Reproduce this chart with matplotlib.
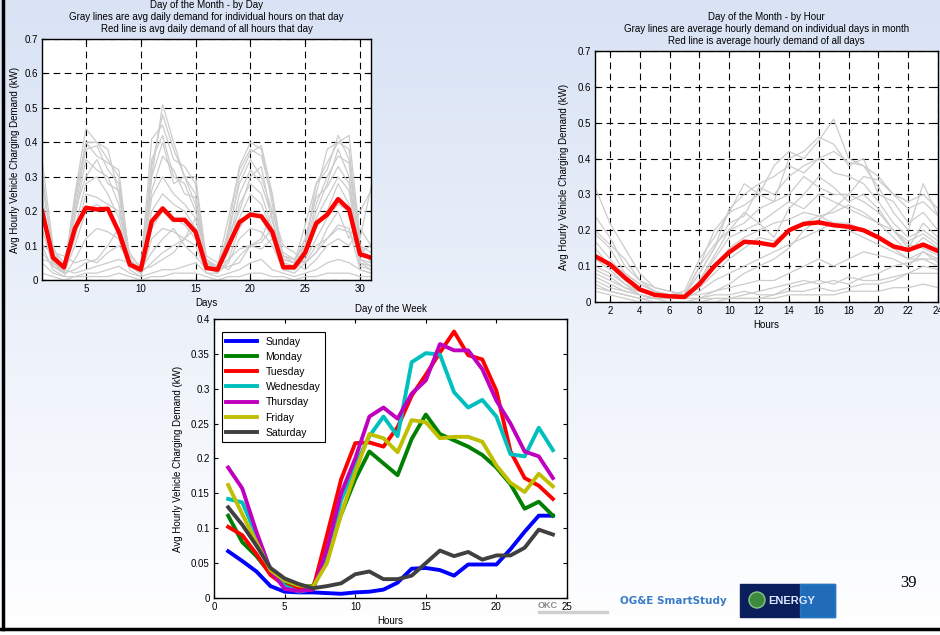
import numpy as np
import matplotlib
matplotlib.use("Agg")
import matplotlib.pyplot as plt
from matplotlib.lines import Line2D
from matplotlib.patches import Rectangle, Circle

plt.rcParams['font.family'] = ['Liberation Sans', 'DejaVu Sans']

# ---- Day of the Month - by Day (days 1..31) ----
days = np.arange(1, 32)
day_avg = [0.20, 0.065, 0.037, 0.15, 0.21, 0.205, 0.207, 0.14, 0.045, 0.03,
           0.17, 0.208, 0.175, 0.175, 0.14, 0.035, 0.03, 0.10, 0.168, 0.19,
           0.185, 0.14, 0.037, 0.037, 0.08, 0.165, 0.19, 0.235, 0.205, 0.075, 0.065]
# gray lines: individual hours across the month (estimated)
day_hours = [
    [0.35, 0.10, 0.02, 0.25, 0.44, 0.40, 0.38, 0.25, 0.05, 0.02, 0.30, 0.51, 0.40, 0.30, 0.25, 0.04,
     0.02, 0.15, 0.33, 0.40, 0.38, 0.22, 0.05, 0.04, 0.10, 0.28, 0.32, 0.42, 0.35, 0.10, 0.08],
    [0.30, 0.08, 0.03, 0.22, 0.40, 0.40, 0.35, 0.30, 0.06, 0.03, 0.41, 0.45, 0.35, 0.33, 0.28, 0.05,
     0.04, 0.12, 0.30, 0.37, 0.39, 0.25, 0.06, 0.05, 0.12, 0.25, 0.38, 0.40, 0.42, 0.12, 0.27],
    [0.25, 0.05, 0.02, 0.20, 0.38, 0.39, 0.32, 0.28, 0.04, 0.02, 0.35, 0.42, 0.30, 0.28, 0.20, 0.06,
     0.03, 0.14, 0.28, 0.35, 0.30, 0.20, 0.07, 0.06, 0.10, 0.22, 0.30, 0.36, 0.34, 0.06, 0.05],
    [0.22, 0.07, 0.04, 0.18, 0.35, 0.32, 0.30, 0.22, 0.05, 0.03, 0.30, 0.40, 0.28, 0.30, 0.22, 0.05,
     0.02, 0.10, 0.25, 0.32, 0.28, 0.18, 0.05, 0.04, 0.09, 0.20, 0.28, 0.38, 0.30, 0.05, 0.04],
    [0.28, 0.09, 0.05, 0.20, 0.30, 0.35, 0.28, 0.26, 0.07, 0.04, 0.26, 0.36, 0.32, 0.25, 0.24, 0.05,
     0.04, 0.13, 0.20, 0.30, 0.33, 0.17, 0.06, 0.05, 0.12, 0.24, 0.27, 0.33, 0.28, 0.08, 0.10],
    [0.18, 0.05, 0.02, 0.15, 0.28, 0.30, 0.25, 0.18, 0.04, 0.02, 0.24, 0.30, 0.25, 0.22, 0.18, 0.04,
     0.03, 0.08, 0.22, 0.28, 0.25, 0.15, 0.04, 0.03, 0.07, 0.18, 0.24, 0.30, 0.26, 0.05, 0.03],
    [0.20, 0.06, 0.03, 0.12, 0.25, 0.24, 0.22, 0.20, 0.06, 0.03, 0.20, 0.25, 0.22, 0.20, 0.15, 0.05,
     0.04, 0.10, 0.18, 0.25, 0.22, 0.14, 0.05, 0.04, 0.08, 0.15, 0.20, 0.28, 0.22, 0.06, 0.04],
    [0.15, 0.04, 0.02, 0.10, 0.20, 0.22, 0.20, 0.15, 0.04, 0.02, 0.15, 0.20, 0.18, 0.16, 0.12, 0.04,
     0.02, 0.06, 0.15, 0.20, 0.18, 0.12, 0.03, 0.03, 0.06, 0.12, 0.18, 0.22, 0.20, 0.04, 0.03],
    [0.10, 0.03, 0.01, 0.06, 0.12, 0.15, 0.14, 0.12, 0.03, 0.01, 0.12, 0.15, 0.14, 0.12, 0.10, 0.02,
     0.02, 0.05, 0.12, 0.15, 0.14, 0.10, 0.03, 0.02, 0.05, 0.10, 0.12, 0.16, 0.15, 0.03, 0.02],
    [0.10, 0.08, 0.07, 0.05, 0.06, 0.05, 0.08, 0.10, 0.06, 0.02, 0.05, 0.08, 0.10, 0.12, 0.15, 0.05,
     0.03, 0.04, 0.05, 0.10, 0.09, 0.12, 0.08, 0.06, 0.05, 0.08, 0.15, 0.20, 0.12, 0.20, 0.26],
    [0.06, 0.05, 0.03, 0.02, 0.03, 0.04, 0.05, 0.06, 0.05, 0.03, 0.08, 0.12, 0.15, 0.10, 0.07, 0.03,
     0.04, 0.06, 0.09, 0.10, 0.11, 0.15, 0.07, 0.05, 0.03, 0.06, 0.10, 0.12, 0.10, 0.15, 0.10],
    [0.05, 0.02, 0.01, 0.01, 0.02, 0.02, 0.03, 0.04, 0.02, 0.01, 0.02, 0.03, 0.03, 0.04, 0.05, 0.02,
     0.01, 0.02, 0.03, 0.05, 0.06, 0.03, 0.02, 0.01, 0.02, 0.03, 0.05, 0.06, 0.05, 0.03, 0.02],
    [0.02, 0.01, 0.00, 0.01, 0.01, 0.01, 0.01, 0.02, 0.01, 0.00, 0.01, 0.01, 0.02, 0.02, 0.02, 0.01,
     0.00, 0.01, 0.01, 0.02, 0.02, 0.01, 0.01, 0.00, 0.01, 0.01, 0.02, 0.02, 0.02, 0.01, 0.01],
    [0.08, 0.04, 0.02, 0.03, 0.05, 0.06, 0.10, 0.15, 0.08, 0.03, 0.04, 0.06, 0.08, 0.12, 0.18, 0.07,
     0.05, 0.03, 0.07, 0.10, 0.12, 0.20, 0.10, 0.08, 0.05, 0.08, 0.12, 0.15, 0.14, 0.08, 0.06],
    [0.32, 0.06, 0.02, 0.24, 0.40, 0.36, 0.34, 0.32, 0.05, 0.02, 0.33, 0.48, 0.38, 0.30, 0.30, 0.06,
     0.04, 0.18, 0.32, 0.38, 0.36, 0.24, 0.06, 0.05, 0.16, 0.28, 0.34, 0.40, 0.38, 0.10, 0.05],
]

# ---- Day of the Month - by Hour (hours 1..24) ----
hours = np.arange(1, 25)
hour_avg = [0.128, 0.105, 0.068, 0.035, 0.02, 0.016, 0.014, 0.05, 0.10, 0.139, 0.168, 0.165,
            0.158, 0.20, 0.218, 0.222, 0.214, 0.21, 0.20, 0.18, 0.155, 0.145, 0.16, 0.142]
# gray lines: individual days across the hours (estimated)
hour_days = [
    [0.32, 0.22, 0.15, 0.08, 0.04, 0.03, 0.02, 0.10, 0.20, 0.25, 0.27, 0.30, 0.38, 0.42, 0.40, 0.45,
     0.51, 0.40, 0.38, 0.32, 0.25, 0.20, 0.33, 0.24],
    [0.24, 0.18, 0.10, 0.06, 0.03, 0.02, 0.03, 0.12, 0.18, 0.25, 0.33, 0.30, 0.28, 0.40, 0.42, 0.46,
     0.44, 0.38, 0.40, 0.30, 0.28, 0.22, 0.25, 0.20],
    [0.19, 0.15, 0.08, 0.05, 0.03, 0.02, 0.02, 0.08, 0.15, 0.22, 0.24, 0.32, 0.30, 0.35, 0.38, 0.40,
     0.36, 0.35, 0.33, 0.28, 0.22, 0.18, 0.20, 0.17],
    [0.17, 0.12, 0.07, 0.04, 0.02, 0.01, 0.02, 0.10, 0.16, 0.20, 0.22, 0.26, 0.28, 0.30, 0.35, 0.32,
     0.30, 0.30, 0.28, 0.25, 0.20, 0.15, 0.22, 0.18],
    [0.15, 0.10, 0.06, 0.03, 0.02, 0.01, 0.01, 0.06, 0.12, 0.18, 0.20, 0.22, 0.25, 0.28, 0.26, 0.30,
     0.28, 0.26, 0.24, 0.22, 0.18, 0.14, 0.18, 0.15],
    [0.12, 0.09, 0.05, 0.03, 0.02, 0.01, 0.01, 0.05, 0.10, 0.15, 0.18, 0.20, 0.22, 0.23, 0.25, 0.24,
     0.22, 0.22, 0.20, 0.18, 0.15, 0.12, 0.14, 0.12],
    [0.10, 0.08, 0.05, 0.02, 0.01, 0.01, 0.01, 0.06, 0.13, 0.20, 0.25, 0.22, 0.18, 0.26, 0.30, 0.35,
     0.32, 0.28, 0.30, 0.26, 0.20, 0.16, 0.15, 0.13],
    [0.09, 0.07, 0.04, 0.02, 0.01, 0.01, 0.01, 0.04, 0.08, 0.12, 0.15, 0.18, 0.17, 0.20, 0.22, 0.24,
     0.25, 0.27, 0.25, 0.22, 0.20, 0.17, 0.19, 0.16],
    [0.08, 0.06, 0.04, 0.03, 0.02, 0.01, 0.01, 0.03, 0.06, 0.08, 0.10, 0.12, 0.14, 0.16, 0.18, 0.20,
     0.22, 0.20, 0.18, 0.16, 0.14, 0.12, 0.12, 0.10],
    [0.07, 0.05, 0.03, 0.02, 0.01, 0.01, 0.01, 0.01, 0.02, 0.02, 0.03, 0.02, 0.02, 0.04, 0.05, 0.06,
     0.05, 0.07, 0.06, 0.06, 0.07, 0.08, 0.10, 0.09],
    [0.06, 0.04, 0.03, 0.02, 0.01, 0.01, 0.01, 0.01, 0.01, 0.01, 0.02, 0.03, 0.04, 0.05, 0.06, 0.05,
     0.06, 0.05, 0.07, 0.08, 0.10, 0.11, 0.12, 0.12],
    [0.05, 0.03, 0.02, 0.01, 0.01, 0.00, 0.00, 0.00, 0.01, 0.01, 0.01, 0.01, 0.02, 0.03, 0.03, 0.04,
     0.03, 0.04, 0.05, 0.05, 0.06, 0.08, 0.08, 0.08],
    [0.04, 0.03, 0.02, 0.01, 0.00, 0.00, 0.00, 0.00, 0.00, 0.01, 0.01, 0.01, 0.01, 0.02, 0.02, 0.02,
     0.02, 0.03, 0.03, 0.03, 0.04, 0.04, 0.05, 0.04],
    [0.13, 0.11, 0.08, 0.05, 0.03, 0.02, 0.02, 0.02, 0.03, 0.04, 0.05, 0.06, 0.06, 0.08, 0.10, 0.12,
     0.10, 0.12, 0.14, 0.13, 0.12, 0.10, 0.14, 0.11],
    [0.03, 0.02, 0.01, 0.00, 0.00, 0.00, 0.00, 0.01, 0.03, 0.05, 0.08, 0.10, 0.12, 0.15, 0.20, 0.23,
     0.26, 0.30, 0.35, 0.34, 0.30, 0.28, 0.30, 0.26],
    [0.20, 0.16, 0.12, 0.06, 0.04, 0.03, 0.02, 0.08, 0.15, 0.26, 0.30, 0.33, 0.35, 0.38, 0.36, 0.40,
     0.42, 0.39, 0.38, 0.35, 0.30, 0.26, 0.28, 0.24],
]

# ---- Day of the Week ----
weekdays = ['Sunday', 'Monday', 'Tuesday', 'Wednesday', 'Thursday', 'Friday', 'Saturday']
week_colors = ['#0000ff', '#008000', '#ff0000', '#00bfbf', '#bf00bf', '#bfbf00', '#404040']
sunday = [0.067, 0.053, 0.038, 0.017, 0.009, 0.008, 0.008, 0.007, 0.006, 0.008, 0.009, 0.012,
          0.022, 0.042, 0.043, 0.040, 0.032, 0.048, 0.048, 0.048, 0.07, 0.095, 0.118, 0.118]
monday = [0.118, 0.08, 0.06, 0.035, 0.022, 0.017, 0.017, 0.06, 0.12, 0.17, 0.21, 0.193,
          0.176, 0.228, 0.263, 0.235, 0.226, 0.217, 0.205, 0.187, 0.163, 0.128, 0.138, 0.118]
tuesday = [0.102, 0.09, 0.063, 0.033, 0.018, 0.013, 0.012, 0.09, 0.17, 0.222, 0.223, 0.217,
           0.245, 0.29, 0.32, 0.352, 0.382, 0.348, 0.342, 0.297, 0.21, 0.172, 0.161, 0.142]
wednesday = [0.142, 0.137, 0.09, 0.04, 0.017, 0.009, 0.013, 0.06, 0.14, 0.19, 0.232, 0.26,
             0.232, 0.338, 0.351, 0.349, 0.295, 0.273, 0.284, 0.26, 0.206, 0.203, 0.244, 0.212]
thursday = [0.187, 0.157, 0.095, 0.04, 0.013, 0.01, 0.012, 0.07, 0.15, 0.20, 0.26, 0.273,
            0.257, 0.293, 0.312, 0.364, 0.355, 0.355, 0.328, 0.283, 0.25, 0.21, 0.203, 0.172]
friday = [0.162, 0.12, 0.08, 0.04, 0.025, 0.018, 0.016, 0.05, 0.12, 0.18, 0.235, 0.229,
          0.209, 0.255, 0.252, 0.229, 0.231, 0.231, 0.224, 0.19, 0.165, 0.152, 0.178, 0.16]
saturday = [0.13, 0.105, 0.075, 0.043, 0.028, 0.02, 0.014, 0.017, 0.021, 0.034, 0.038, 0.027,
            0.027, 0.032, 0.05, 0.068, 0.06, 0.066, 0.055, 0.061, 0.061, 0.072, 0.098, 0.091]
week_series = [sunday, monday, tuesday, wednesday, thursday, friday, saturday]

ylab = 'Avg Hourly Vehicle Charging Demand (kW)'
FS = 7

fig = plt.figure(figsize=(9.4, 6.35), dpi=100)

# slide background gradient
bg = fig.add_axes([0, 0, 1, 1], zorder=-10)
grad = np.linspace(0, 1, 256).reshape(-1, 1)
top_c = np.array([0.85, 0.89, 0.96])
bot_c = np.array([1.0, 1.0, 1.0])
img = top_c + (bot_c - top_c) * grad[..., None]
bg.imshow(img, aspect='auto', extent=[0, 1, 0, 1], origin='upper')
bg.set_xlim(0, 1)
bg.set_ylim(0, 1)
bg.axis('off')


def style(ax):
    ax.tick_params(direction='in', top=True, right=True, length=3, labelsize=FS, pad=3)
    for s in ax.spines.values():
        s.set_linewidth(1.0)


def month_grid(ax):
    ax.grid(True, color='k', linestyle=(0, (6, 4)), linewidth=0.8)
    ax.set_axisbelow(True)


# chart 1
ax1 = fig.add_axes([0.0447, 0.559, 0.350, 0.3795])
for g in day_hours:
    ax1.plot(days, g, color='#cccccc', lw=0.9)
ax1.plot(days, day_avg, color='red', lw=3.2)
ax1.set_xlim(1, 31)
ax1.set_ylim(0, 0.7)
ax1.set_xticks([5, 10, 15, 20, 25, 30])
ax1.set_yticks(np.arange(0, 0.71, 0.1))
ax1.set_yticklabels(['0', '0.1', '0.2', '0.3', '0.4', '0.5', '0.6', '0.7'])
month_grid(ax1)
style(ax1)
ax1.set_title('Day of the Month - by Day\nGray lines are avg daily demand for individual hours on that day\n'
              'Red line is avg daily demand of all hours that day', fontsize=FS, pad=5, linespacing=1.25)
ax1.set_xlabel('Days', fontsize=FS, labelpad=3)
ax1.set_ylabel(ylab, fontsize=FS)
ax1.yaxis.set_label_coords(-0.068, 0.5)

# chart 2
ax2 = fig.add_axes([0.633, 0.5244, 0.365, 0.3953])
for g in hour_days:
    ax2.plot(hours, g, color='#cccccc', lw=0.9)
ax2.plot(hours, hour_avg, color='red', lw=3.2)
ax2.set_xlim(1, 24)
ax2.set_ylim(0, 0.7)
ax2.set_xticks(np.arange(2, 25, 2))
ax2.set_yticks(np.arange(0, 0.71, 0.1))
ax2.set_yticklabels(['0', '0.1', '0.2', '0.3', '0.4', '0.5', '0.6', '0.7'])
month_grid(ax2)
style(ax2)
ax2.set_title('Day of the Month - by Hour\nGray lines are average hourly demand on individual days in month\n'
              'Red line is average hourly demand of all days', fontsize=FS, pad=5, linespacing=1.25)
ax2.set_xlabel('Hours', fontsize=FS, labelpad=3)
ax2.set_ylabel(ylab, fontsize=FS, labelpad=6)

# chart 3
ax3 = fig.add_axes([0.2277, 0.0583, 0.3755, 0.4394])
for name, col, vals in zip(weekdays, week_colors, week_series):
    ax3.plot(hours, vals, color=col, lw=2.8, label=name)
ax3.set_xlim(0, 25)
ax3.set_ylim(0, 0.4)
ax3.set_xticks(np.arange(0, 26, 5))
ax3.set_yticks(np.arange(0, 0.41, 0.05))
ax3.set_yticklabels(['0', '0.05', '0.1', '0.15', '0.2', '0.25', '0.3', '0.35', '0.4'])
style(ax3)
ax3.set_title('Day of the Week', fontsize=FS, pad=5)
ax3.set_xlabel('Hours', fontsize=FS, labelpad=3)
ax3.set_ylabel(ylab, fontsize=FS, labelpad=6)
leg = ax3.legend(loc='upper left', fontsize=7.5, handlelength=3.0, fancybox=False,
                 edgecolor='k', framealpha=1, borderaxespad=0, labelspacing=0.5,
                 bbox_to_anchor=(0.022, 0.952))
leg.get_frame().set_linewidth(0.8)

# logos and page number
ov = fig.add_axes([0, 0, 1, 1], zorder=5)
ov.set_xlim(0, 940)
ov.set_ylim(635, 0)
ov.axis('off')
ov.text(538, 605, 'OKC', fontsize=6.5, color='#888888', fontweight='bold', va='center')
ov.add_patch(Rectangle((538, 611), 70, 2, color='#cfcfcf'))
ov.text(620, 601, 'OG&E SmartStudy', fontsize=7.5, color='#3a7cc7', fontweight='bold',
        va='center', family='DejaVu Sans')
ov.add_patch(Rectangle((740, 584), 95, 33, color='#0b1f5c'))
ov.add_patch(Rectangle((800, 584), 35, 33, color='#2a8de0', alpha=0.7))
ov.add_patch(Circle((757, 600), 8, facecolor='#3c8a3c', edgecolor='#88c888', lw=1))
ov.text(768, 601, 'ENERGY', fontsize=8, color='#dde8ff', fontweight='bold', va='center')
ov.text(908, 583, '39', fontsize=12, family='Liberation Serif', ha='center', va='center')

# slide frame lines
fig.add_artist(Line2D([3 / 940, 3 / 940], [1 - 629 / 635, 1], color='k', lw=2.5))
fig.add_artist(Line2D([0, 1], [1 - 628.5 / 635, 1 - 628.5 / 635], color='k', lw=2.5))

fig.savefig('out.png', dpi=100)
